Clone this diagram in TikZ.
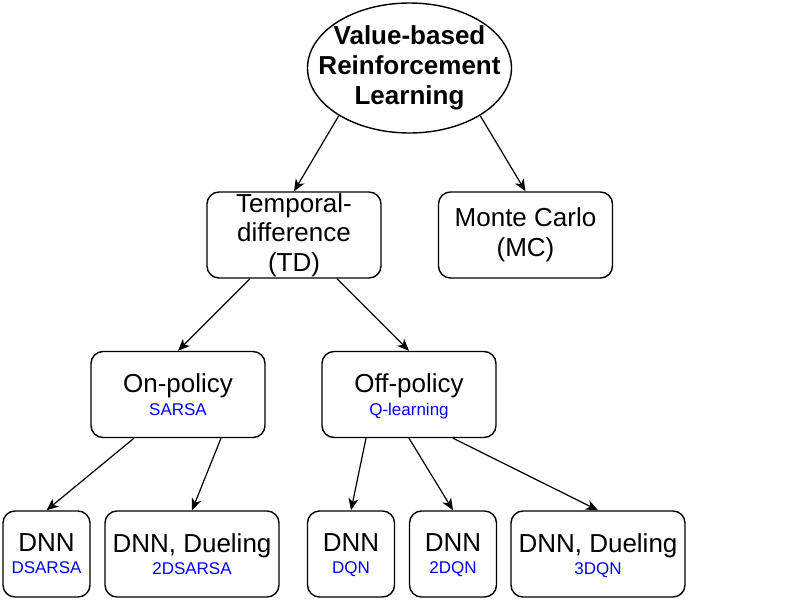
\documentclass[tikz,border=0pt]{standalone}
\usepackage{fontspec}
\setmainfont{Liberation Sans}
\usetikzlibrary{shapes.geometric,arrows.meta}
\definecolor{subblue}{RGB}{0,0,255}
\tikzset{
  box/.style={draw, line width=1.4pt, rounded corners=12pt, minimum width=174pt, minimum height=86pt, inner sep=0pt, align=center, font=\fontsize{26}{29.5}\selectfont},
  subbox/.style={box, text depth=0pt, font=\fontsize{17}{23}\selectfont},
  smallsub/.style={subbox, minimum width=87pt},
  conn/.style={line width=1.2pt, -{Stealth[length=12pt, width=10pt, inset=3.5pt]}},
}
\newcommand{\maintxt}[1]{{\fontsize{26}{0}\selectfont #1}}
\newcommand{\subtxt}[1]{{\color{subblue}#1}}
\begin{document}
\begin{tikzpicture}[x=1pt, y=-1pt]
\useasboundingbox (0,0) rectangle (811,600);
% root
\node (root) [draw, ellipse, line width=1.4pt, minimum width=204pt, minimum height=130pt, inner sep=0pt] at (409.5,68) {};
\node (roottext) [align=center, inner sep=0pt, font=\fontsize{26}{30}\selectfont\bfseries] at (root.center) {Value-based\\Reinforcement\\Learning};
% level 1
\node (td) [box] at (294,235) {Temporal-\\difference\\(TD)};
\node (mc) [box] at (525.5,235) {Monte Carlo\\(MC)};
% level 2
\node (on) [subbox] at (178,394.5) {\maintxt{On-policy}\\\subtxt{SARSA}};
\node (off) [subbox] at (409,394.5) {\maintxt{Off-policy}\\\subtxt{Q-learning}};
% level 3
\node (dsarsa) [smallsub, font=\fontsize{17}{22}\selectfont] at (46.5,554) {\maintxt{DNN}\\\subtxt{DSARSA}};
\node (twodsarsa) [subbox, font=\fontsize{17}{22}\selectfont] at (192,554) {\maintxt{DNN, Dueling}\\\subtxt{2DSARSA}};
\node (dqn) [smallsub, font=\fontsize{17}{22}\selectfont] at (351,554) {\maintxt{DNN}\\\subtxt{DQN}};
\node (twodqn) [smallsub, font=\fontsize{17}{22}\selectfont] at (453,554) {\maintxt{DNN}\\\subtxt{2DQN}};
\node (threedqn) [subbox, font=\fontsize{17}{22}\selectfont] at (598,554) {\maintxt{DNN, Dueling}\\\subtxt{3DQN}};
% connectors
\draw[conn] (root.-146) -- (td.north);
\draw[conn] (root.-34) -- (mc.north);
\draw[conn] (td.south) ++(-44,0) coordinate (tdl) -- (on.north);
\draw[conn] (td.south) ++(43,0) coordinate (tdr) -- (off.north);
\draw[conn] (on.south) ++(-44,0) coordinate (onl) -- (dsarsa.north);
\draw[conn] (on.south) ++(43,0) coordinate (onr) -- (twodsarsa.north);
\draw[conn] (off.south) ++(-43,0) coordinate (offl) -- (dqn.north);
\draw[conn] (off.south) ++(0,0) coordinate (offm) -- (twodqn.north);
\draw[conn] (off.south) ++(44,0) coordinate (offr) -- (threedqn.north);
\end{tikzpicture}
\end{document}
